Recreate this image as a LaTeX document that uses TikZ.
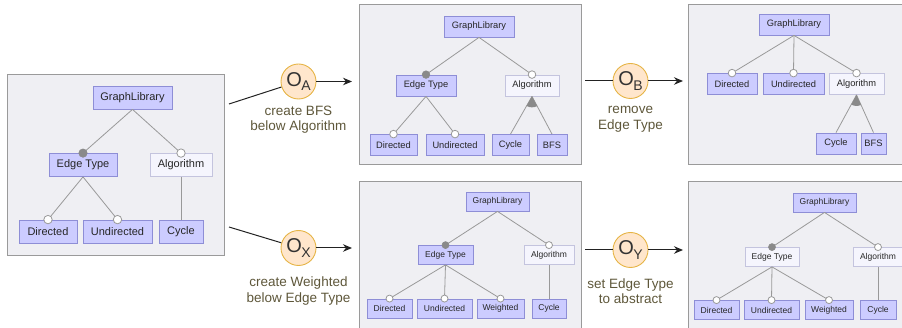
\documentclass[tikz,border=0pt]{standalone}
\usepackage{fontspec}
\setmainfont{Liberation Sans}
\usetikzlibrary{arrows.meta,calc}
\definecolor{panelfill}{HTML}{EFEFF3}
\definecolor{paneldraw}{HTML}{9A9A9A}
\definecolor{featfill}{HTML}{CCCCFF}
\definecolor{featdraw}{HTML}{8E8ED6}
\definecolor{absfill}{HTML}{F5F5FD}
\definecolor{absdraw}{HTML}{C4C4DE}
\definecolor{edgegray}{HTML}{999999}
\definecolor{mandgray}{HTML}{8A8A8A}
\definecolor{opfill}{HTML}{FFE6CC}
\definecolor{opdraw}{HTML}{E6B445}
\definecolor{labelcol}{HTML}{5E573A}
\definecolor{conncol}{HTML}{222222}
\tikzset{
  panel/.style={draw=paneldraw,fill=panelfill,line width=0.9pt},
  feat/.style={draw=featdraw,fill=featfill,inner sep=0pt,line width=0.8pt,text=black!85},
  absf/.style={draw=absdraw,fill=absfill,inner sep=0pt,line width=0.8pt,text=black!85},
  sone/.style={font=\fontsize{11}{11}\selectfont,minimum height=23pt},
  stwo/.style={font=\fontsize{9.3}{9.3}\selectfont,minimum height=21pt},
  sthree/.style={font=\fontsize{8.5}{8.5}\selectfont,minimum height=19pt},
  edge/.style={draw=edgegray,line width=0.8pt},
  mand/.style={fill=mandgray,draw=mandgray,line width=0.6pt},
  optc/.style={fill=white,draw=edgegray,line width=0.8pt},
  altg/.style={fill=mandgray},
  op/.style={circle,draw=opdraw,fill=opfill,line width=0.9pt,minimum size=35pt,inner sep=0pt,text=black!80},
  oplabel/.style={align=center,text=labelcol,font=\fontsize{13.5}{15.5}\selectfont},
  conn/.style={draw=conncol,line width=1pt},
  connarrow/.style={conn,-{Stealth[length=9pt,width=7.5pt]}}
}
\newcommand{\opname}[1]{{\fontsize{20}{20}\selectfont O}\kern-0.5pt\raisebox{-4.5pt}{\fontsize{14}{14}\selectfont #1}}
\begin{document}
\begin{tikzpicture}[x=1pt,y=-1pt]
\useasboundingbox (0,0) rectangle (902,328);
\clip (0,0) rectangle (902,328);

% ---------- panels ----------
\draw[panel] (7,74) rectangle (224,255);
\draw[panel] (359,4) rectangle (581,164);
\draw[panel] (688,4) rectangle (915,164);
\draw[panel] (359,181) rectangle (581,340);
\draw[panel] (688,181) rectangle (915,340);

% ---------- panel 1 ----------
\node[feat,sone,minimum width=79pt] (agl) at (132.5,97.5) {GraphLibrary};
\node[feat,sone,minimum width=68pt] (aet) at (83,165) {Edge Type};
\node[absf,sone,minimum width=62pt] (aal) at (181,165) {Algorithm};
\node[feat,sone,minimum width=58pt] (adi) at (48,231.5) {Directed};
\node[feat,sone,minimum width=69pt] (aun) at (117.5,231.5) {Undirected};
\node[feat,sone,minimum width=44pt] (acy) at (181,231.5) {Cycle};
\draw[edge] (agl.south) -- (aet.north);
\draw[edge] (agl.south) -- (aal.north);
\draw[edge] (aet.south) -- (adi.north);
\draw[edge] (aet.south) -- (aun.north);
\draw[edge] (aal.south) -- (acy.north);
\draw[mand] (aet.north) circle (4.2pt);
\draw[optc] (aal.north) circle (4.2pt);
\draw[optc] (adi.north) circle (4.2pt);
\draw[optc] (aun.north) circle (4.2pt);

% ---------- panel 2 ----------
\node[feat,stwo,minimum width=70pt] (bgl) at (479,26.5) {GraphLibrary};
\node[feat,stwo,minimum width=60pt] (bet) at (426,85.5) {Edge Type};
\node[absf,stwo,minimum width=54pt] (bal) at (532,85.5) {Algorithm};
\node[feat,stwo,minimum width=47pt] (bdi) at (393.5,145) {Directed};
\node[feat,stwo,minimum width=58pt] (bun) at (455,145) {Undirected};
\node[feat,stwo,minimum width=37pt] (bcy) at (510.5,145) {Cycle};
\node[feat,stwo,minimum width=30pt] (bbf) at (552,145) {BFS};
\draw[edge] (bgl.south) -- (bet.north);
\draw[edge] (bgl.south) -- (bal.north);
\draw[edge] (bet.south) -- (bdi.north);
\draw[edge] (bet.south) -- (bun.north);
\draw[edge] (bal.south) -- (bcy.north);
\draw[edge] (bal.south) -- (bbf.north);
\fill[altg] (bal.south) -- ($(bal.south)!11pt!(bcy.north)$) to[bend right=25] ($(bal.south)!11pt!(bbf.north)$) -- cycle;
\draw[mand] (bet.north) circle (3.8pt);
\draw[optc] (bal.north) circle (3.8pt);
\draw[optc] (bdi.north) circle (3.8pt);
\draw[optc] (bun.north) circle (3.8pt);

% ---------- panel 3 ----------
\node[feat,stwo,minimum width=70pt] (cgl) at (794,24.5) {GraphLibrary};
\node[feat,stwo,minimum width=50pt] (cdi) at (732,84) {Directed};
\node[feat,stwo,minimum width=61pt] (cun) at (793.5,84) {Undirected};
\node[absf,stwo,minimum width=55pt] (cal) at (856.5,84) {Algorithm};
\node[feat,stwo,minimum width=40pt] (ccy) at (836,143.5) {Cycle};
\node[feat,stwo,minimum width=25pt] (cbf) at (873.5,143.5) {BFS};
\draw[edge] (cgl.south) -- (cdi.north);
\draw[edge] (cgl.south) -- (cun.north);
\draw[edge] (cgl.south) -- (cal.north);
\draw[edge] (cal.south) -- (ccy.north);
\draw[edge] (cal.south) -- (cbf.north);
\fill[altg] (cal.south) -- ($(cal.south)!11pt!(ccy.north)$) to[bend right=25] ($(cal.south)!11pt!(cbf.north)$) -- cycle;
\draw[optc] (cdi.north) circle (3.8pt);
\draw[optc] (cun.north) circle (3.8pt);
\draw[optc] (cal.north) circle (3.8pt);

% ---------- panel 4 ----------
\node[feat,sthree,minimum width=63pt] (dgl) at (497.5,201.5) {GraphLibrary};
\node[feat,sthree,minimum width=55pt] (det) at (445.5,255) {Edge Type};
\node[absf,sthree,minimum width=50pt] (dal) at (549,255) {Algorithm};
\node[feat,sthree,minimum width=45pt] (ddi) at (389.5,308.5) {Directed};
\node[feat,sthree,minimum width=55pt] (dun) at (444.5,308.5) {Undirected};
\node[feat,sthree,minimum width=47pt] (dwe) at (500.5,308.5) {Weighted};
\node[feat,sthree,minimum width=34pt] (dcy) at (549,308.5) {Cycle};
\draw[edge] (dgl.south) -- (det.north);
\draw[edge] (dgl.south) -- (dal.north);
\draw[edge] (det.south) -- (ddi.north);
\draw[edge] (det.south) -- (dun.north);
\draw[edge] (det.south) -- (dwe.north);
\draw[edge] (dal.south) -- (dcy.north);
\draw[mand] (det.north) circle (3.5pt);
\draw[optc] (dal.north) circle (3.5pt);
\draw[optc] (ddi.north) circle (3.5pt);
\draw[optc] (dun.north) circle (3.5pt);
\draw[optc] (dwe.north) circle (3.5pt);

% ---------- panel 5 ----------
\node[feat,sthree,minimum width=63pt] (egl) at (824.5,202.5) {GraphLibrary};
\node[absf,sthree,minimum width=54pt] (eet) at (772,257) {Edge Type};
\node[absf,sthree,minimum width=50pt] (eal) at (878,257) {Algorithm};
\node[feat,sthree,minimum width=45pt] (edi) at (716.5,310) {Directed};
\node[feat,sthree,minimum width=55pt] (eun) at (771.5,310) {Undirected};
\node[feat,sthree,minimum width=48pt] (ewe) at (829,310) {Weighted};
\node[feat,sthree,minimum width=36pt] (ecy) at (878,310) {Cycle};
\draw[edge] (egl.south) -- (eet.north);
\draw[edge] (egl.south) -- (eal.north);
\draw[edge] (eet.south) -- (edi.north);
\draw[edge] (eet.south) -- (eun.north);
\draw[edge] (eet.south) -- (ewe.north);
\draw[edge] (eal.south) -- (ecy.north);
\draw[mand] (eet.north) circle (3.5pt);
\draw[optc] (eal.north) circle (3.5pt);
\draw[optc] (edi.north) circle (3.5pt);
\draw[optc] (eun.north) circle (3.5pt);
\draw[optc] (ewe.north) circle (3.5pt);

% ---------- operators ----------
\node[op] (oa) at (298.5,81.5) {\opname{A}};
\node[op] (ob) at (630.5,81) {\opname{B}};
\node[op] (ox) at (298.5,248) {\opname{X}};
\node[op] (oy) at (630.5,250) {\opname{Y}};

\coordinate (oain) at (229,104);
\coordinate (oaout) at (352,81.5);
\coordinate (obin) at (585,81);
\coordinate (obout) at (683,81);
\coordinate (oxin) at (229,227);
\coordinate (oxout) at (352,248);
\coordinate (oyin) at (585,250);
\coordinate (oyout) at (683,250);

\draw[conn] (oain) -- (oa);
\draw[connarrow] (oa) -- (oaout);
\draw[conn] (obin) -- (ob);
\draw[connarrow] (ob) -- (obout);
\draw[conn] (oxin) -- (ox);
\draw[connarrow] (ox) -- (oxout);
\draw[conn] (oyin) -- (oy);
\draw[connarrow] (oy) -- (oyout);

\node[oplabel] (oal) at (298.5,119.5) {create BFS\\below Algorithm};
\node[oplabel] (obl) at (630.5,119.5) {remove\\Edge Type};
\node[oplabel] (oxl) at (298.5,291) {create Weighted\\below Edge Type};
\node[oplabel] (oyl) at (630.5,291) {set Edge Type\\to abstract};
\end{tikzpicture}
\end{document}
